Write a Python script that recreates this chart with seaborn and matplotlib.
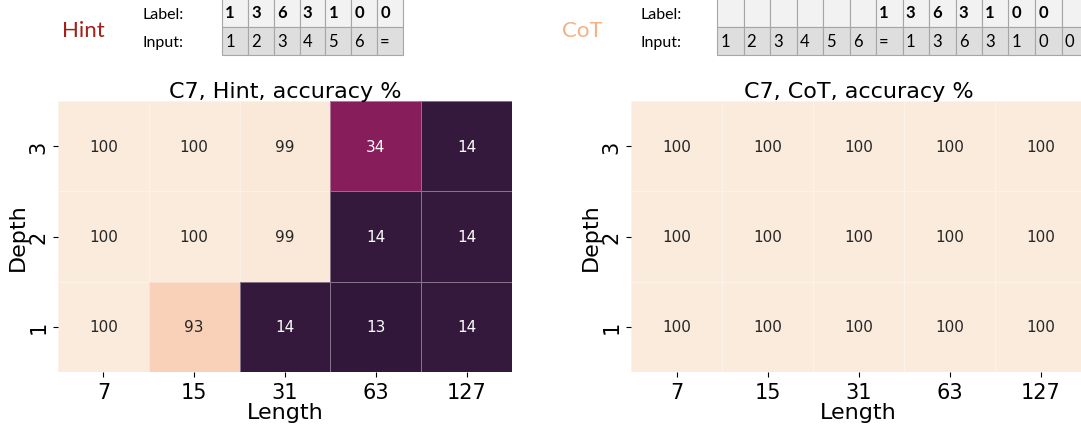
import numpy as np
import pandas as pd
import matplotlib
matplotlib.use('Agg')
import matplotlib.pyplot as plt
import seaborn as sns

# data
lengths = [7, 15, 31, 63, 127]
depths = [3, 2, 1]
hint_acc = [[100, 100, 99, 34, 14],
            [100, 100, 99, 14, 14],
            [100, 93, 14, 13, 14]]
cot_acc = [[100, 100, 100, 100, 100],
           [100, 100, 100, 100, 100],
           [100, 100, 100, 100, 100]]

hint_label = ['1', '3', '6', '3', '1', '0', '0']
hint_input = ['1', '2', '3', '4', '5', '6', '=']
cot_label = ['', '', '', '', '', '', '1', '3', '6', '3', '1', '0', '0', '']
cot_input = ['1', '2', '3', '4', '5', '6', '=', '1', '3', '6', '3', '1', '0', '0']

W, H = 1081, 427
fig = plt.figure(figsize=(W / 100, H / 100), dpi=100)


def px_axes(x0, y0, x1, y1):
    # pixel box (top-left origin) -> figure axes
    return fig.add_axes([x0 / W, 1 - y1 / H, (x1 - x0) / W, (y1 - y0) / H])


def draw_heat(ax, vals, title):
    df = pd.DataFrame(vals, index=depths, columns=lengths)
    sns.heatmap(df, ax=ax, cmap='rocket', vmin=0, vmax=100, annot=True, fmt='d',
                cbar=False, linewidths=0.6, linecolor=(1, 1, 1, 0.4),
                annot_kws={'fontsize': 11})
    ax.set_title(title, fontsize=16, pad=3)
    ax.set_xlabel('Length', fontsize=16, labelpad=0)
    ax.set_ylabel('Depth', fontsize=16, labelpad=0)
    ax.tick_params(axis='x', labelsize=15, rotation=0)
    ax.tick_params(axis='y', labelsize=15, rotation=90)


ax1 = px_axes(58, 102, 512, 373)
draw_heat(ax1, hint_acc, 'C7, Hint, accuracy %')
ax2 = px_axes(631, 102, 1086, 373)
draw_heat(ax2, cot_acc, 'C7, CoT, accuracy %')


def draw_table(box, label_row, input_row):
    tax = px_axes(*box)
    tax.axis('off')
    n = len(input_row)
    colours = [['#f2f2f2'] * n, ['#dedede'] * n]
    tb = tax.table(cellText=[label_row, input_row], cellColours=colours,
                   cellLoc='left', bbox=[0, 0, 1, 1])
    tb.auto_set_font_size(False)
    for (r, c), cell in tb.get_celld().items():
        cell.set_edgecolor('#a6a6a6')
        cell.set_linewidth(0.8)
        cell.PAD = 0.12
        t = cell.get_text()
        t.set_fontsize(12)
        t.set_fontfamily('Lato')
        if r == 0:
            t.set_fontweight('bold')
    return tax


draw_table((222, -1, 403, 56), hint_label, hint_input)
draw_table((717, -1, 717 + 26.5 * 14, 56), cot_label, cot_input)

fig.text(83 / W, 1 - 31 / H, 'Hint', color='#a0221a', fontsize=16,
         family='Lato', ha='center', va='center')
fig.text(582 / W, 1 - 31 / H, 'CoT', color='#f4b183', fontsize=16,
         family='Lato', ha='center', va='center')
for x0 in (143, 641):
    fig.text(x0 / W, 1 - 15 / H, 'Label:', fontsize=11.5, family='Lato', va='center')
    fig.text(x0 / W, 1 - 43 / H, 'Input:', fontsize=11.5, family='Lato', va='center')

fig.savefig('out.png', dpi=100)
